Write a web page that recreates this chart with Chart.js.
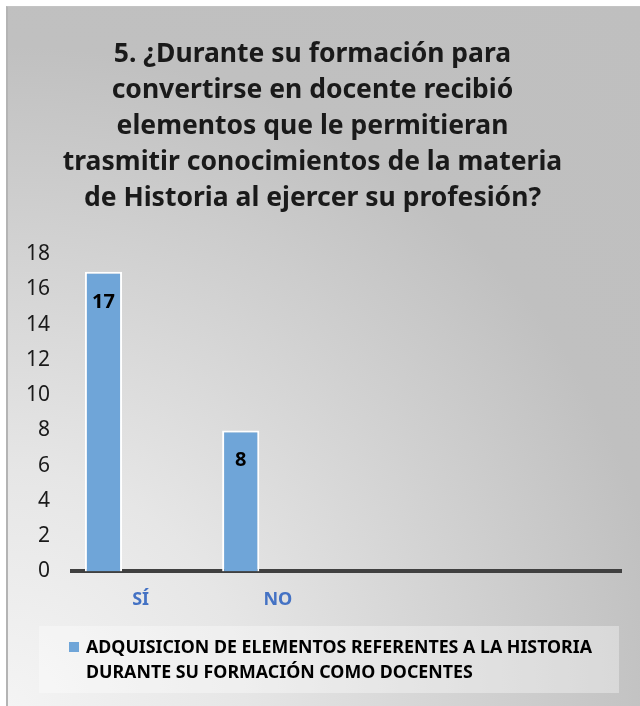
<!DOCTYPE html>
<html>
<head>
<meta charset="utf-8">
<script src="https://cdn.jsdelivr.net/npm/chart.js@4.4.1/dist/chart.umd.min.js"></script>
<style>
  html, body { margin: 0; padding: 0; background: #fff; }
  #wrap { position: relative; width: 640px; height: 706px; overflow: hidden; }
  #panel {
    position: absolute; left: 6px; top: 6px; width: 634px; height: 700px;
    border-left: 2px solid #b4b4b4; border-top: 1px solid #c4c4c4;
    background: radial-gradient(circle at 0% 100%, #f4f4f4 0%, #e6e6e6 25%, #c0c0c0 70%, #bfbfbf 100%);
  }
  #chart { position: absolute; left: 0; top: 0; }
</style>
</head>
<body>
<div id="wrap">
  <div id="panel"></div>
  <canvas id="chart" width="640" height="706"></canvas>
</div>
<script>
const titleLines = [
  "5. ¿Durante su formación para",
  "convertirse en docente recibió",
  "elementos que le permitieran",
  "trasmitir conocimientos de la materia",
  "de Historia al ejercer su profesión?",
];
const categories = ["SÍ", "NO", "", ""];
const adquisicion = [17, 8, null, null];
const serie2 = [null, null, null, null];
const serie3 = [null, null, null, null];
const legendLines = [
  "ADQUISICION DE ELEMENTOS REFERENTES A LA HISTORIA",
  "DURANTE SU FORMACIÓN COMO DOCENTES",
];

const barColor = "#6fa5d8";
const fontFamily = "'Noto Sans', 'DejaVu Sans', sans-serif";

// value labels inside the top of each bar
const valueLabels = {
  id: "valueLabels",
  afterDatasetsDraw(chart) {
    const ctx = chart.ctx;
    const meta = chart.getDatasetMeta(0);
    ctx.save();
    ctx.font = "bold 20px " + fontFamily;
    ctx.fillStyle = "#000";
    ctx.textAlign = "center";
    ctx.textBaseline = "middle";
    meta.data.forEach((bar, i) => {
      const v = adquisicion[i];
      if (v === null) return;
      ctx.fillText(String(v), bar.x, bar.y + 30);
    });
    ctx.restore();
  },
};

// two-line legend in a light box below the axis
const boxLegend = {
  id: "boxLegend",
  afterDraw(chart) {
    const ctx = chart.ctx;
    const top = chart.height - 80;
    ctx.save();
    ctx.fillStyle = "rgba(255,255,255,0.35)";
    ctx.fillRect(39, top, 580, 67);
    ctx.fillStyle = barColor;
    ctx.fillRect(69, top + 16, 10, 10);
    ctx.font = "bold 17.8px " + fontFamily;
    ctx.fillStyle = "#000";
    ctx.textAlign = "left";
    ctx.textBaseline = "middle";
    legendLines.forEach((line, i) => {
      ctx.fillText(line, 86, top + 22 + i * 25);
    });
    ctx.restore();
  },
};

new Chart(document.getElementById("chart"), {
  type: "bar",
  data: {
    labels: categories,
    datasets: [
      {
        label: legendLines.join(" "),
        data: adquisicion,
        backgroundColor: barColor,
        borderColor: "#ffffff",
        borderWidth: 2,
        categoryPercentage: 0.8125,
        barPercentage: 1.0,
      },
      { label: "s2", data: serie2, categoryPercentage: 0.8125, barPercentage: 1.0 },
      { label: "s3", data: serie3, categoryPercentage: 0.8125, barPercentage: 1.0 },
    ],
  },
  options: {
    responsive: false,
    animation: false,
    layout: { padding: { left: 4, right: 19, top: 0, bottom: 77 } },
    plugins: {
      legend: { display: false },
      tooltip: { enabled: false },
      title: {
        display: true,
        text: titleLines,
        color: "#1a1a1a",
        font: { family: fontFamily, size: 26.5, weight: "bold", lineHeight: 1.36 },
        padding: { top: 36, bottom: 38 },
      },
    },
    scales: {
      x: {
        grid: { display: false, drawTicks: false },
        border: { display: true, color: "#404040", width: 4 },
        ticks: {
          color: "#4472c4",
          padding: 18,
          font: { family: fontFamily, size: 18, weight: "bold" },
        },
      },
      y: {
        min: 0,
        max: 18,
        grid: { display: false, drawTicks: false },
        border: { display: false },
        ticks: {
          stepSize: 2,
          color: "#1a1a1a",
          padding: 22,
          font: { family: fontFamily, size: 21 },
        },
      },
    },
  },
  plugins: [valueLabels, boxLegend],
});
</script>
</body>
</html>
